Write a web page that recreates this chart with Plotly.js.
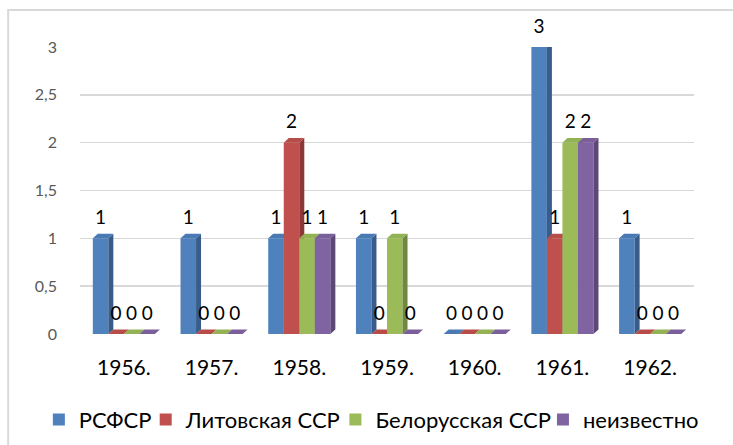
<!DOCTYPE html>
<html><head><meta charset="utf-8">
<script src="https://cdn.plot.ly/plotly-3.0.1.min.js"></script>
<style>html,body{margin:0;padding:0;background:#fff}#c{width:733px;height:445px}</style>
</head><body><div id="c"></div>
<script>
const years = ["1956.", "1957.", "1958.", "1959.", "1960.", "1961.", "1962."];
const seriesNames = ["РСФСР", "Литовская ССР", "Белорусская ССР", "неизвестно"];
const rsfsr = [1, 1, 1, 1, 0, 3, 1];
const lit = [0, 0, 2, 0, 0, 1, 0];
const bel = [0, 0, 1, 1, 0, 2, 0];
const unknown = [0, 0, 1, 0, 0, 2, 0];
const colors = ["#4F81BD", "#C0504D", "#9BBB59", "#8064A2"];
const sideColors = ["#385D8A", "#8C3836", "#71893F", "#5C4776"];
const topColors = ["#4A7AB4", "#B84C49", "#93B254", "#7A5F9A"];
const yTicks = [0, 0.5, 1, 1.5, 2, 2.5, 3];

const font = 'Lato, "Open Sans", "Noto Sans", sans-serif';
const all = [rsfsr, lit, bel, unknown];
const legendIds = ['legend', 'legend2', 'legend3', 'legend4'];
const legendX = [-0.067, 0.107, 0.416, 0.754];
const W = 0.177, D = 0.057, DY = 0.048;
const idx = years.map((_, j) => j);

const traces = [];
const lx = [], ly = [], lt = [];
all.forEach((v, i) => {
  const s = i === 0 ? '' : String(i + 1);
  const xa = 'x' + s, ya = 'y' + s;
  const off = -2 * W + i * W;
  traces.push({
    type: 'bar', x: idx, y: v, name: seriesNames[i], legend: legendIds[i],
    xaxis: xa, yaxis: ya, offset: off, width: W,
    marker: {color: colors[i], line: {width: 0}}, hoverinfo: 'skip'
  });
  const sx = [], sy = [], tx = [], ty = [];
  idx.forEach((j, k) => {
    const x0 = j + off, x1 = x0 + W, y = v[k];
    sx.push(x1, x1, x1 + D, x1 + D, x1, null);
    sy.push(0, y, y + DY, DY, 0, null);
    tx.push(x0, x1, x1 + D, x0 + D, x0, null);
    ty.push(y, y, y + DY, y + DY, y, null);
    lx.push(x0 + W / 2); ly.push(y); lt.push(String(y));
  });
  traces.push({type: 'scatter', mode: 'lines', x: sx, y: sy, fill: 'toself', fillcolor: sideColors[i],
    line: {width: 0, color: 'rgba(0,0,0,0)'}, xaxis: xa, yaxis: ya, showlegend: false, hoverinfo: 'skip'});
  traces.push({type: 'scatter', mode: 'lines', x: tx, y: ty, fill: 'toself', fillcolor: topColors[i],
    line: {width: 0, color: 'rgba(0,0,0,0)'}, xaxis: xa, yaxis: ya, showlegend: false, hoverinfo: 'skip'});
});
traces.push({type: 'scatter', mode: 'markers+text', x: lx, y: ly, text: lt, textposition: 'top center',
  marker: {size: 14, color: 'rgba(0,0,0,0)'}, textfont: {family: font, size: 19, color: '#000'},
  xaxis: 'x4', yaxis: 'y4', showlegend: false, hoverinfo: 'skip', cliponaxis: false});

const layout = {
  width: 733, height: 445,
  margin: {l: 80, r: 39, t: 47, b: 111, autoexpand: false},
  paper_bgcolor: '#fff', plot_bgcolor: '#fff',
  separators: ', ',
  barmode: 'overlay',
  font: {family: font},
  showlegend: true,
  xaxis: {range: [-0.5, 6.5], tickvals: idx, ticktext: years, showgrid: false, zeroline: false,
          showline: false, ticks: '', tickfont: {family: font, size: 21, color: '#000'}, ticklabelstandoff: 19},
  yaxis: {range: [0, 3], tickvals: yTicks, ticktext: yTicks.map(v => String(v).replace('.', ',')),
          showgrid: true, gridcolor: '#d9d9d9', gridwidth: 1.5, zeroline: false, showline: false,
          ticks: '', tickfont: {family: font, size: 16, color: '#595959'}, ticklabelstandoff: 22},
  shapes: [{type: 'rect', xref: 'paper', yref: 'paper', x0: -0.117, x1: 1.08, y0: -0.42, y1: 1.129,
            line: {color: '#d9d9d9', width: 2}, fillcolor: 'rgba(0,0,0,0)'}]
};
['2', '3', '4'].forEach(s => {
  layout['xaxis' + s] = {overlaying: 'x', matches: 'x', visible: false, showgrid: false, zeroline: false};
  layout['yaxis' + s] = {overlaying: 'y', matches: 'y', visible: false, showgrid: false, zeroline: false};
});
legendIds.forEach((id, i) => {
  layout[id] = {orientation: 'h', x: legendX[i], xanchor: 'left', y: -0.225, yanchor: 'top',
                font: {family: font, size: 22, color: '#000'}, itemwidth: 30,
                bgcolor: 'rgba(0,0,0,0)'};
});
Plotly.newPlot('c', traces, layout, {displayModeBar: false, staticPlot: true});
</script></body></html>
